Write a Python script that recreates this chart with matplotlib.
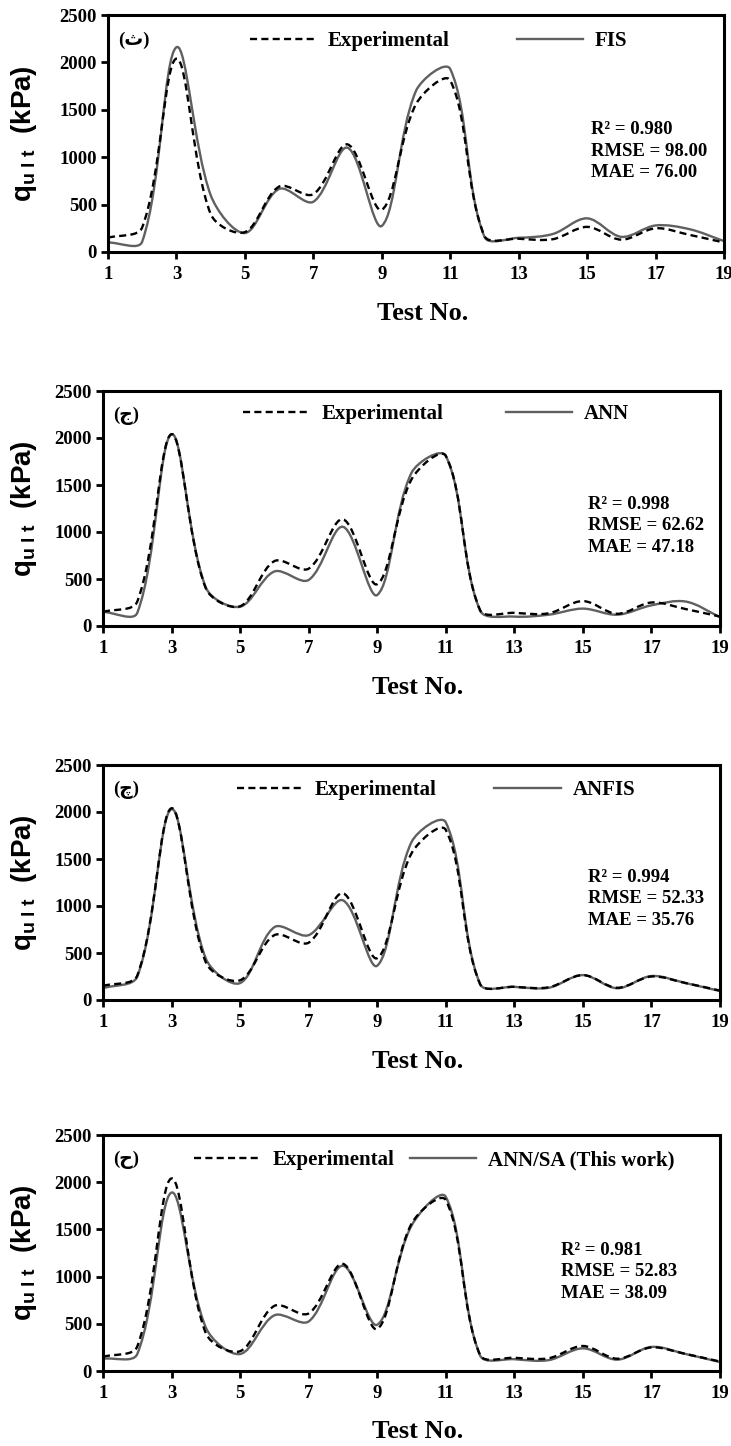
import numpy as np
import matplotlib
matplotlib.use("Agg")
import matplotlib.pyplot as plt
from matplotlib.path import Path
from matplotlib.patches import PathPatch
from matplotlib.lines import Line2D

plt.rcParams["font.family"] = ["Liberation Serif", "DejaVu Serif"]
plt.rcParams["font.weight"] = "bold"
plt.rcParams["mathtext.fontset"] = "custom"
plt.rcParams["mathtext.bf"] = "Liberation Sans:bold"
plt.rcParams["mathtext.rm"] = "Liberation Sans:bold"

# test numbers and measured bearing capacity (kPa)
tests = list(range(1, 20))
experimental = [150, 260, 2040, 400, 210, 690, 610, 1135, 445, 1560, 1810,
                170, 140, 135, 265, 130, 250, 180, 100]
fis = [100, 110, 2160, 600, 200, 665, 530, 1100, 275, 1700, 1930,
       160, 150, 190, 355, 160, 280, 240, 115]
ann = [150, 140, 2040, 410, 205, 580, 490, 1055, 330, 1630, 1810,
       165, 100, 120, 185, 120, 220, 260, 95]
anfis = [125, 250, 2030, 440, 180, 775, 690, 1060, 365, 1680, 1890,
         170, 140, 130, 265, 125, 255, 180, 95]
ann_sa = [130, 180, 1890, 460, 180, 590, 525, 1115, 490, 1540, 1845,
          165, 125, 115, 240, 120, 255, 180, 95]

models = ["FIS", "ANN", "ANFIS", "ANN/SA (This work)"]
predictions = [fis, ann, anfis, ann_sa]
panel_tags = ["(ث)", "(ج)", "(چ)", "(ح)"]
stats = [("0.980", "98.00", "76.00"), ("0.998", "62.62", "47.18"),
         ("0.994", "52.33", "35.76"), ("0.981", "52.83", "38.09")]

W, H = 731, 1446
# axes boxes in pixels: left, top, right, bottom
boxes = [(108, 15, 724, 252), (103, 391, 720, 626),
         (103, 765, 720, 1000), (103, 1135, 720, 1371)]
legend_anchor = [(0.2305, 0.890), (0.227, 0.902), (0.217, 0.894), (0.1475, 0.894)]
legend_colsp = [3.2, 3.0, 2.75, 0.75]
stats_pos = [(0.784, 0.426), (0.786, 0.426), (0.786, 0.43), (0.742, 0.42)]

GRAY = "#606060"


def excel_smooth(ax, xs, ys, **kw):
    # bezier smoothing similar to the spreadsheet "smoothed line", done in screen space
    pts = ax.transData.transform(np.column_stack([xs, ys]))
    n = len(pts)
    verts = [pts[0]]
    codes = [Path.MOVETO]
    for i in range(n - 1):
        p0 = pts[i - 1] if i > 0 else pts[i]
        p1 = pts[i]
        p2 = pts[i + 1]
        p3 = pts[i + 2] if i + 2 < n else pts[i + 1]
        d01 = np.hypot(*(p1 - p0))
        d12 = np.hypot(*(p2 - p1))
        d23 = np.hypot(*(p3 - p2))
        f1 = d12 / (d01 + d12) / 3 if d01 + d12 > 0 else 0
        f2 = d12 / (d12 + d23) / 3 if d12 + d23 > 0 else 0
        c1 = p1 + (p2 - p0) * f1
        c2 = p2 - (p3 - p1) * f2
        verts += [c1, c2, p2]
        codes += [Path.CURVE4] * 3
    verts = ax.transData.inverted().transform(np.array(verts))
    patch = PathPatch(Path(verts, codes), fill=False, **kw)
    ax.add_patch(patch)
    return patch


fig = plt.figure(figsize=(W / 100, H / 100), dpi=100)

for k in range(4):
    l, t, r, b = boxes[k]
    ax = fig.add_axes([l / W, 1 - b / H, (r - l) / W, (b - t) / H])
    ax.set_xlim(1, 19)
    ax.set_ylim(0, 2500)
    ax.set_xticks(range(1, 20, 2))
    ax.set_yticks(range(0, 2501, 500))
    ax.tick_params(direction="out", length=5, width=2, labelsize=13.5, pad=3)
    ax.tick_params(axis="x", pad=5)
    for lab in ax.get_xticklabels() + ax.get_yticklabels():
        lab.set_fontweight("bold")
    for s in ax.spines.values():
        s.set_linewidth(2.2)
        s.set_color("black")

    excel_smooth(ax, tests, experimental, edgecolor="black", lw=1.7,
                 linestyle=(0, (3, 1.8)), zorder=3)
    excel_smooth(ax, tests, predictions[k], edgecolor=GRAY, lw=1.7, zorder=2)

    handles = [Line2D([], [], color="black", lw=1.7, linestyle=(0, (3, 1.8))),
               Line2D([], [], color=GRAY, lw=1.7)]
    ax.legend(handles, ["Experimental", models[k]], ncol=2, frameon=False,
              loc="center left", bbox_to_anchor=legend_anchor[k],
              borderpad=0, borderaxespad=0, handlelength=3.2, handletextpad=0.55,
              columnspacing=legend_colsp[k],
              prop={"family": "Liberation Serif", "weight": "bold", "size": 15})

    ax.text(0.016, 0.895, panel_tags[k], transform=ax.transAxes, ha="left",
            va="center", fontsize=13.5, fontweight="bold",
            family=["Liberation Serif", "DejaVu Sans"])

    r2, rmse, mae = stats[k]
    ax.text(stats_pos[k][0], stats_pos[k][1],
            f"R² = {r2}\nRMSE = {rmse}\nMAE = {mae}",
            transform=ax.transAxes, ha="left", va="center", fontsize=13.5,
            fontweight="bold", linespacing=1.36)

    ax.set_xlabel("Test No.", fontsize=19, fontweight="bold")
    ax.xaxis.label.set_va("center")
    ax.xaxis.set_label_coords(0.51, -61 / (b - t))
    ax.set_ylabel(r"$\mathbf{q_{u\;l\;t}}$  (kPa)", fontsize=20, fontweight="bold",
                  family="Liberation Sans")
    ax.yaxis.label.set_va("center")
    ax.yaxis.set_label_coords((24 - l) / (r - l), 0.5)

fig.savefig("out.png", dpi=100)
